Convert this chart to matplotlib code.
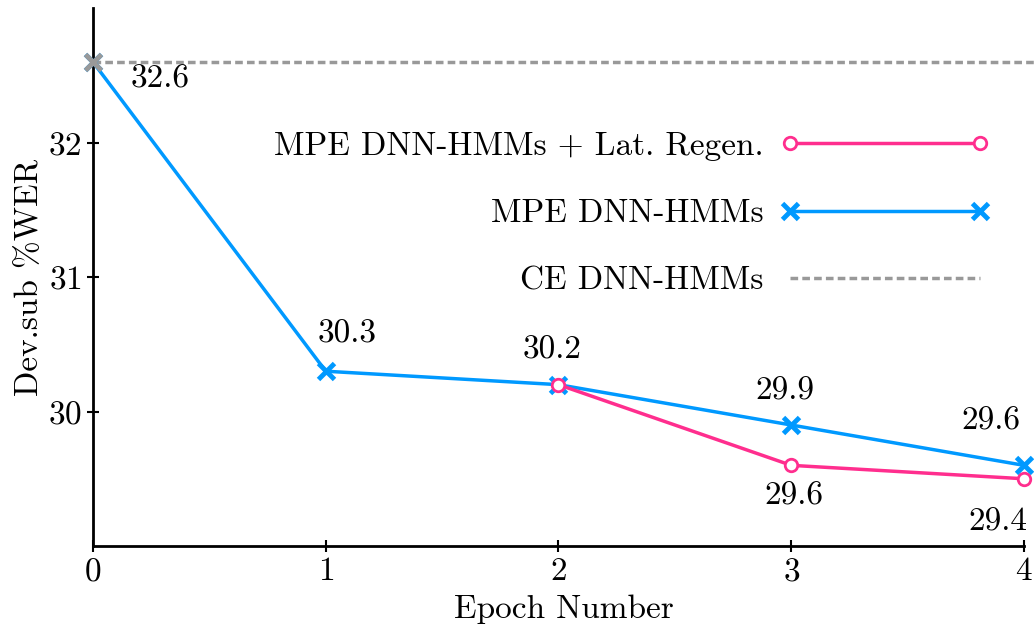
import matplotlib
matplotlib.use("Agg")
import matplotlib.pyplot as plt

plt.rcParams['font.family'] = ['cmr10', 'DejaVu Serif']
plt.rcParams['axes.formatter.use_mathtext'] = True
plt.rcParams['mathtext.fontset'] = 'cm'

epochs = [0, 1, 2, 3, 4]
mpe = [32.6, 30.3, 30.2, 29.9, 29.6]
regen_epochs = [2, 3, 4]
regen = [30.2, 29.6, 29.5]
ce_value = 32.6

mpe_labels = ["32.6", "30.3", "30.2", "29.9", "29.6"]
mpe_label_pos = [(0.288, 32.47), (1.091, 30.58), (1.972, 30.46), (2.973, 30.15), (3.858, 29.93)]
regen_labels = ["29.6", "29.4"]
regen_label_pos = [(3.012, 29.37), (3.888, 29.175)]

blue = "#0099ff"
pink = "#ff2e8e"
gray = "#999999"
fs = 24

fig = plt.figure(figsize=(10.34, 6.31), dpi=100)
ax = fig.add_axes([0.0899, 0.1347, 0.9101, 0.8523])

ax.axhline(ce_value, color=gray, lw=2.5, ls=(0, (2.2, 1.2)), label="CE DNN-HMMs", zorder=1)
ax.plot(epochs, mpe, color=blue, lw=2.5, marker="x", ms=11, mew=3.5,
        label="MPE DNN-HMMs", zorder=3, clip_on=False)
ax.plot(regen_epochs, regen, color=pink, lw=2.5, marker="o", ms=9, mew=2,
        mfc="white", mec=pink, label="MPE DNN-HMMs + Lat. Regen.", zorder=4, clip_on=False)
ax.plot([epochs[0]], [ce_value], color=gray, marker="x", ms=11, mew=3.5, ls="none",
        zorder=5, clip_on=False)

for t, (x, y) in zip(mpe_labels, mpe_label_pos):
    ax.text(x, y, t, ha="center", va="center", fontsize=fs)
for t, (x, y) in zip(regen_labels, regen_label_pos):
    ax.text(x, y, t, ha="center", va="center", fontsize=fs)

ax.set_xlim(0, 4.043)
ax.set_ylim(29, 33)
ax.set_xticks([0, 1, 2, 3, 4])
ax.set_yticks([30, 31, 32])
ax.spines['bottom'].set_bounds(0, 4)
ax.spines['top'].set_visible(False)
ax.spines['right'].set_visible(False)
for s in ['left', 'bottom']:
    ax.spines[s].set_linewidth(2)
ax.tick_params(direction="inout", length=8, width=1.5, labelsize=fs, pad=4)

ax.set_xlabel("Epoch Number", fontsize=fs, labelpad=6)
ax.set_ylabel("Dev.sub %WER", fontsize=fs, labelpad=3)

handles, labels = ax.get_legend_handles_labels()
order = [2, 1, 0]
leg = ax.legend([handles[i] for i in order], [labels[i] for i in order],
                loc="upper right", bbox_to_anchor=(0.985, 0.827), frameon=False,
                markerfirst=False, numpoints=2, handlelength=6.3, labelspacing=1.15,
                fontsize=fs, handletextpad=0.5)

fig.savefig("out.png", dpi=100)
